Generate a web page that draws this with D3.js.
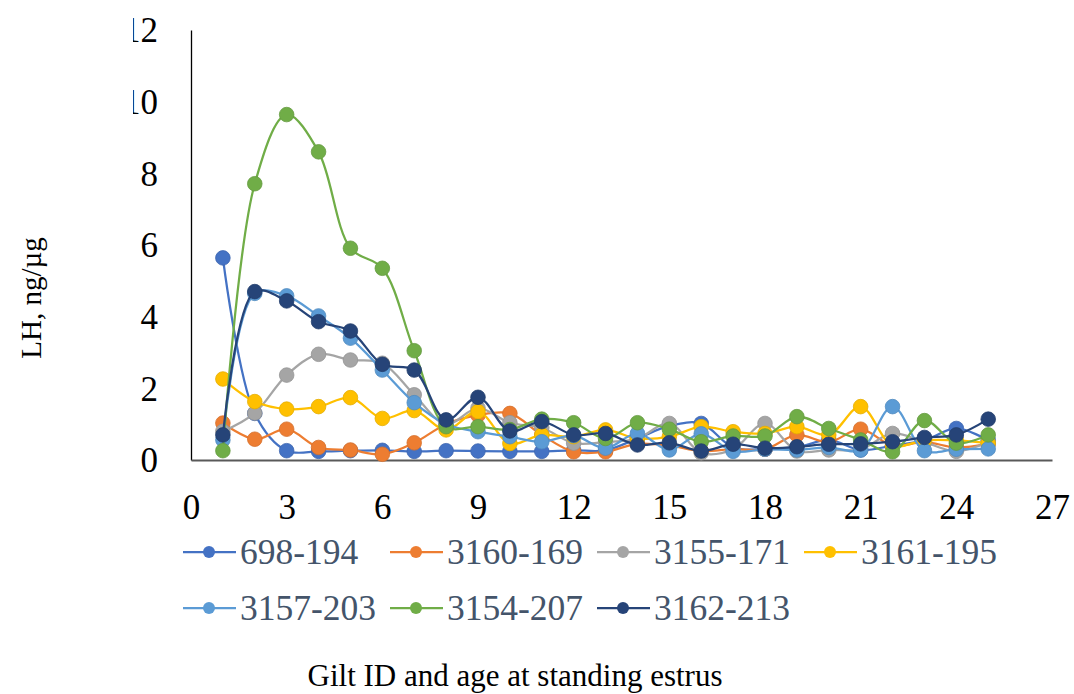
<!DOCTYPE html>
<html>
<head>
<meta charset="utf-8">
<script src="https://cdn.jsdelivr.net/npm/d3@7"></script>
<style>
  body { margin: 0; background: #fff; }
  svg { display: block; }
</style>
</head>
<body>
<svg id="chart" width="1074" height="694"></svg>
<script>
// days after start (x) and LH values per gilt
var days = d3.range(1, 26)
var seriesNames = ["698-194", "3160-169", "3155-171", "3161-195", "3157-203", "3154-207", "3162-213"]
var seriesColors = ["#4472C4", "#ED7D31", "#A5A5A5", "#FFC000", "#5B9BD5", "#70AD47", "#264478"]

var s698_194 = [5.64, 1.30, 0.26, 0.24, 0.26, 0.27, 0.24, 0.26, 0.25, 0.24, 0.24, 0.27, 0.27, 0.60, 0.95, 1.02, 0.35, 0.30, 0.35, 0.56, 0.28, 0.40, 0.55, 0.88, 0.55]
var s3160_169 = [1.03, 0.58, 0.86, 0.35, 0.28, 0.16, 0.48, 1.00, 1.25, 1.30, 0.70, 0.23, 0.23, 0.45, 0.40, 0.25, 0.30, 0.30, 0.70, 0.50, 0.86, 0.40, 0.50, 0.35, 0.45]
var s3155_171 = [0.80, 1.31, 2.37, 2.95, 2.79, 2.70, 1.82, 1.00, 1.45, 1.04, 0.90, 0.47, 0.50, 0.60, 1.02, 0.20, 0.30, 1.02, 0.25, 0.28, 0.30, 0.74, 0.50, 0.24, 0.50]
var s3161_195 = [2.26, 1.63, 1.42, 1.49, 1.74, 1.16, 1.38, 0.84, 1.35, 0.46, 0.70, 0.65, 0.84, 0.60, 0.65, 0.93, 0.79, 0.74, 0.93, 0.70, 1.49, 0.40, 0.55, 0.55, 0.47]
var s3157_203 = [0.56, 4.65, 4.58, 4.02, 3.40, 2.51, 1.60, 1.00, 0.79, 0.65, 0.51, 0.68, 0.33, 0.74, 0.28, 0.73, 0.24, 0.30, 0.28, 0.35, 0.28, 1.49, 0.26, 0.30, 0.31]
var s3154_207 = [0.26, 7.71, 9.64, 8.60, 5.91, 5.35, 3.05, 0.93, 0.93, 0.85, 1.14, 1.04, 0.60, 1.04, 0.86, 0.51, 0.67, 0.67, 1.21, 0.88, 0.56, 0.23, 1.10, 0.47, 0.70]
var s3162_213 = [0.70, 4.70, 4.44, 3.86, 3.60, 2.67, 2.51, 1.12, 1.75, 0.81, 1.07, 0.70, 0.74, 0.42, 0.48, 0.25, 0.44, 0.33, 0.37, 0.44, 0.45, 0.51, 0.63, 0.70, 1.14]

var xTicks = [0, 3, 6, 9, 12, 15, 18, 21, 24, 27]
var yTicks = [0, 2, 4, 6, 8, 10, 12]

var allSeries = [s698_194, s3160_169, s3155_171, s3161_195, s3157_203, s3154_207, s3162_213]

var font = "'Liberation Serif', 'Times New Roman', serif"
var svg = d3.select("#chart")

var x = d3.scaleLinear().domain([0, 27]).range([191, 1052])
var y = d3.scaleLinear().domain([0, 12]).range([460, 30])

// y axis - the labels are cut on the left like in the original,
// clip rect is in the axis group's local coords (x(0) = 0 there)
svg.append("clipPath").attr("id", "ylabClip")
    .append("rect").attr("x", 133 - x(0)).attr("y", 0).attr("width", 200).attr("height", 694)

var yAxis = svg.append("g")
    .attr("transform", "translate(" + x(0) + ",0)")
    .attr("clip-path", "url(#ylabClip)")
    .call(d3.axisLeft(y).tickValues(yTicks).tickSize(0).tickPadding(33))
yAxis.select(".domain").attr("stroke", "#000").attr("stroke-width", 1.3)
yAxis.selectAll("text")
    .attr("font-family", font).attr("font-size", 35).attr("fill", "#000")
    .attr("dy", "0.34em")

var xAxis = svg.append("g")
    .attr("transform", "translate(0," + y(0) + ")")
    .call(d3.axisBottom(x).tickValues(xTicks).tickSize(0).tickPadding(34))
xAxis.select(".domain").attr("stroke", "#595959").attr("stroke-width", 2)
xAxis.selectAll("text")
    .attr("font-family", font).attr("font-size", 35).attr("fill", "#000")

// lines + markers
var line = d3.line()
    .x(function(d, i) { return x(days[i]) })
    .y(function(d) { return y(d) })
    .curve(d3.curveCatmullRom.alpha(0.5))

allSeries.forEach(function(vals, k) {
    var g = svg.append("g")
    g.append("path")
        .datum(vals)
        .attr("d", line)
        .attr("fill", "none")
        .attr("stroke", seriesColors[k])
        .attr("stroke-width", 2.25)
    g.selectAll("circle")
        .data(vals)
        .join("circle")
        .attr("cx", function(d, i) { return x(days[i]) })
        .attr("cy", function(d) { return y(d) })
        .attr("r", 7.3)
        .attr("fill", seriesColors[k])
        .attr("stroke", d3.color(seriesColors[k]).darker(0.3))
        .attr("stroke-width", 0.8)
})

// legend, 4 items per row
var legend = svg.append("g")
seriesNames.forEach(function(name, k) {
    var col = k % 4, row = Math.floor(k / 4)
    var lx = 183 + col * 207
    var ly = 552 + row * 56
    legend.append("line")
        .attr("x1", lx).attr("x2", lx + 53)
        .attr("y1", ly).attr("y2", ly)
        .attr("stroke", seriesColors[k]).attr("stroke-width", 2.25)
    legend.append("circle")
        .attr("cx", lx + 26).attr("cy", ly).attr("r", 6)
        .attr("fill", seriesColors[k])
    legend.append("text")
        .attr("x", lx + 57).attr("y", ly)
        .attr("dy", "0.35em")
        .attr("font-family", font).attr("font-size", 35.5)
        .attr("fill", "#44546A")
        .text(name)
})

// axis titles
svg.append("text")
    .attr("transform", "translate(31,298) rotate(-90)")
    .attr("text-anchor", "middle").attr("dy", "0.35em")
    .attr("font-family", font).attr("font-size", 29)
    .text("LH, ng/µg")

svg.append("text")
    .attr("x", 515).attr("y", 675)
    .attr("text-anchor", "middle").attr("dy", "0.35em")
    .attr("font-family", font).attr("font-size", 31)
    .text("Gilt ID and age at standing estrus")
</script>
</body>
</html>
